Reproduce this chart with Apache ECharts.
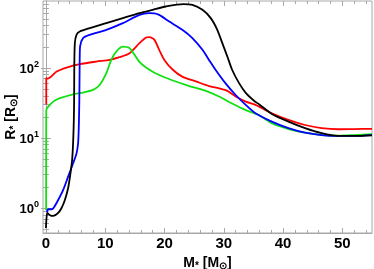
<!DOCTYPE html>
<html>
<head>
<meta charset="utf-8">
<script src="https://cdn.jsdelivr.net/npm/echarts@6/dist/echarts.min.js"></script>
<style>html,body{margin:0;padding:0;background:#fff;}#c{width:374px;height:269px;}</style>
</head>
<body>
<div id="c"></div>
<script>
// ---- data (M in solar masses, R in solar radii) ----
const redM = [0.05, 0.05, 0.3, 1.8, 3.47, 5.7, 8.5, 10.74, 12.4, 14.1, 15.77, 16.9, 17.45, 18.3, 19.1, 19.97, 21.4, 23.0, 25.3, 27.5, 29.2, 30.6, 32.0, 33.7, 35.35, 38.1, 40.9, 43.7, 46.5, 49.3, 52.0, 55.0];
const redR = [30, 72, 70, 88.5, 101, 113, 123, 130, 142, 162, 225, 271, 275, 251, 181, 130, 94, 75, 64, 55, 51, 47, 39, 33, 29.6, 22.5, 18.1, 15.3, 13.8, 13.3, 13.4, 13.5];

const greenM = [0.03, 0.05, 0.39, 1.22, 2.35, 4.58, 6.26, 7.94, 9.06, 10.18, 11.02, 11.86, 12.97, 14.1, 15.77, 17.45, 19.1, 21.4, 24.2, 26.96, 29.2, 31.4, 33.7, 35.9, 38.1, 40.9, 43.7, 46.5, 49.3, 52.0, 55.0];
const greenR = [0.94, 25, 28, 33, 36.9, 42, 44.4, 48.5, 57, 84, 130, 171, 201, 191, 122, 94, 79, 66, 55, 47, 39, 31, 25, 21.3, 16.2, 13.4, 11.9, 11.0, 10.8, 11.0, 11.3];

const blueM = [0.15, 0.39, 0.96, 1.34, 2.06, 2.9, 3.74, 4.58, 5.15, 5.42, 5.54, 5.59, 5.63, 5.68, 5.75, 6.26, 7.38, 10.18, 12.97, 15.77, 17.4, 18.3, 19.1, 20.8, 23.0, 24.7, 26.4, 27.5, 28.6, 30.3, 32.0, 33.7, 35.35, 38.1, 40.9, 43.7, 46.5, 49.3, 52.1, 55.0];
const blueR = [0.88, 0.96, 0.96, 1.02, 1.3, 1.81, 2.8, 4.35, 6.0, 8.4, 14.5, 22.5, 35, 104, 201, 266, 296, 349, 435, 571, 604, 600, 571, 458, 349, 266, 181, 130, 94, 60, 41, 29.6, 22.5, 17.1, 13.8, 11.9, 11.0, 10.7, 10.7, 11.0];

const blackM = [0.0, 0.22, 0.67, 1.22, 2.06, 2.63, 3.19, 3.74, 4.14, 4.41, 4.58, 4.7, 4.75, 4.78, 4.87, 5.15, 5.7, 7.38, 10.18, 12.97, 15.77, 18.0, 20.25, 23.15, 24.7, 26.4, 27.8, 28.9, 29.75, 30.6, 31.4, 32.55, 33.7, 35.1, 36.0, 38.1, 40.9, 43.7, 46.5, 49.3, 52.1, 55.0];
const blackR = [0.52, 0.85, 0.79, 0.77, 0.85, 1.0, 1.3, 1.93, 3.16, 4.85, 8.5, 18, 35, 104, 225, 296, 330, 369, 435, 513, 604, 674, 751, 813, 794, 674, 513, 349, 225, 145, 94, 61, 44, 34, 30, 22, 17.1, 13.8, 11.7, 10.7, 10.7, 10.9];

// ---- ticks ----
const xTicks = [0, 10, 20, 30, 40, 50];
const xMinor = [2, 4, 6, 8, 12, 14, 16, 18, 22, 24, 26, 28, 32, 34, 36, 38, 42, 44, 46, 48, 52, 54];
const yTicks = [1, 10, 100];
const yMinor = [0.5, 0.6, 0.7, 0.8, 0.9, 2, 3, 4, 5, 6, 7, 8, 9, 20, 30, 40, 50, 60, 70, 80, 90, 200, 300, 400, 500, 600, 700, 800];

const X_MIN = -0.5, X_MAX = 55, Y_MIN = 0.44, Y_MAX = 900;
const FRAME = '#a8a8a8';
const FONT = '"Liberation Sans", Arial, sans-serif';

function pair(ms, rs) { return ms.map((m, i) => [m, rs[i]]); }

function xAx(pos, ticks, len, labels) {
  return {
    type: 'value', min: X_MIN, max: X_MAX, position: pos, gridIndex: 0,
    axisLine: { show: labels, lineStyle: { color: FRAME, width: 1 } },
    axisTick: { show: true, inside: true, length: len, customValues: ticks, lineStyle: { color: FRAME, width: 1 } },
    axisLabel: labels ? { show: true, customValues: xTicks, color: '#000', fontSize: 15, fontWeight: 'bold', fontFamily: FONT, margin: 3 } : { show: false },
    splitLine: { show: false },
    name: labels ? '{a|M}{s|*}{a| [M}{s|⊙}{a|]}' : '',
    nameLocation: 'middle', nameGap: 22, nameMoveOverlap: false,
    nameTextStyle: { rich: {
      a: { fontSize: 14, fontWeight: 'bold', fontFamily: FONT, color: '#000', verticalAlign: 'middle' },
      s: { fontSize: 10, fontWeight: 'bold', fontFamily: FONT, color: '#000', verticalAlign: 'bottom', padding: [6, 0, 0, 0] }
    } }
  };
}

function yAx(pos, ticks, len, labels) {
  return {
    type: 'log', logBase: 10, min: Y_MIN, max: Y_MAX, position: pos, gridIndex: 0,
    axisLine: { show: labels, lineStyle: { color: FRAME, width: 1 } },
    axisTick: { show: true, inside: true, length: len, customValues: ticks, lineStyle: { color: FRAME, width: 1 } },
    axisLabel: labels ? {
      show: true, customValues: yTicks, margin: 4,
      formatter: function (v) { return '{b|10}{s|' + Math.round(Math.log10(v)) + '}'; },
      rich: {
        b: { fontSize: 13, fontWeight: 'bold', fontFamily: FONT, color: '#000', lineHeight: 16, verticalAlign: 'bottom' },
        s: { fontSize: 9, fontWeight: 'bold', fontFamily: FONT, color: '#000', lineHeight: 16, verticalAlign: 'top' }
      }
    } : { show: false },
    splitLine: { show: false },
    name: labels ? '{a|R}{s|*}{a| [R}{s|⊙}{a|]}' : '',
    nameLocation: 'middle', nameGap: 24, nameRotate: 90, nameMoveOverlap: false,
    nameTextStyle: { rich: {
      a: { fontSize: 14, fontWeight: 'bold', fontFamily: FONT, color: '#000', verticalAlign: 'middle' },
      s: { fontSize: 10, fontWeight: 'bold', fontFamily: FONT, color: '#000', verticalAlign: 'bottom', padding: [6, 0, 0, 0] }
    } }
  };
}

function line(name, ms, rs, color) {
  return {
    type: 'line', name: name, xAxisIndex: 0, yAxisIndex: 0,
    data: pair(ms, rs), showSymbol: false, symbol: 'none',
    smooth: 0.25, lineStyle: { color: color, width: 1.8 }, silent: true, animation: false
  };
}

const chart = echarts.init(document.getElementById('c'), null, { renderer: 'canvas' });
chart.setOption({
  animation: false,
  backgroundColor: '#fff',
  grid: { left: 43, right: 2, top: 1, bottom: 36, show: true, borderColor: FRAME, borderWidth: 1, backgroundColor: 'transparent', containLabel: false, outerBoundsMode: 'none' },
  xAxis: [
    xAx('bottom', xTicks, 5, true),
    xAx('bottom', xMinor, 3, false),
    xAx('top', xTicks, 5, false),
    xAx('top', xMinor, 3, false)
  ],
  yAxis: [
    yAx('left', yTicks, 5, true),
    yAx('left', yMinor, 3, false),
    yAx('right', yTicks, 5, false),
    yAx('right', yMinor, 3, false)
  ],
  series: [
    line('red', redM, redR, '#ff0000'),
    line('green', greenM, greenR, '#10e010'),
    line('blue', blueM, blueR, '#0000ff'),
    line('black', blackM, blackR, '#000000')
  ]
});
</script>
</body>
</html>
